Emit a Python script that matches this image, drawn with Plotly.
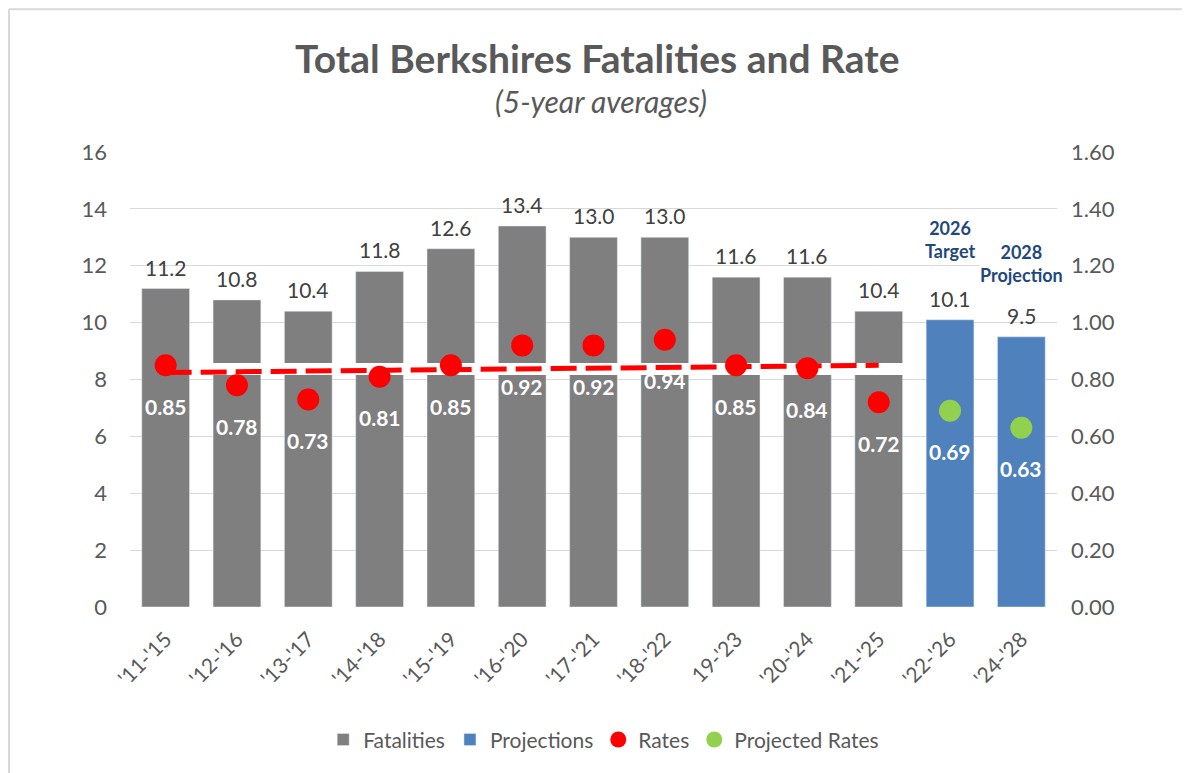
import numpy as np
import plotly.graph_objects as go

# ---- data ----
periods = ["'11-'15", "'12-'16", "'13-'17", "'14-'18", "'15-'19", "'16-'20", "'17-'21",
           "'18-'22", "19-'23", "'20-'24", "'21-'25", "'22-'26", "'24-'28"]
fatalities = [11.2, 10.8, 10.4, 11.8, 12.6, 13.4, 13.0, 13.0, 11.6, 11.6, 10.4]
projections = [10.1, 9.5]
rates = [0.85, 0.78, 0.73, 0.81, 0.85, 0.92, 0.92, 0.94, 0.85, 0.84, 0.72]
projected_rates = [0.69, 0.63]
projection_notes = ["2026<br>Target", "2028<br>Projection"]
left_ticks = [0, 2, 4, 6, 8, 10, 12, 14, 16]
right_ticks = [0.0, 0.2, 0.4, 0.6, 0.8, 1.0, 1.2, 1.4, 1.6]

n_hist = len(fatalities)
x_hist = list(range(n_hist))
x_proj = list(range(n_hist, n_hist + len(projections)))
x_all = list(range(len(periods)))

FONT = "Lato"
TXT = "#595959"
GRAY = "#7F7F7F"
BLUE = "#4F81BD"
RED = "#FF0000"
GREEN = "#92D050"
BW = 0.67
NOTE_SHIFTS = [57, 50]

fig = go.Figure()

fig.add_trace(go.Bar(x=x_hist, y=fatalities, name="Fatalities", marker_color=GRAY,
                     width=BW, yaxis="y", hoverinfo="skip"))
fig.add_trace(go.Bar(x=x_proj, y=projections, name="Projections", marker_color=BLUE,
                     width=BW, yaxis="y", hoverinfo="skip"))

# white band crossing the historical bars (as in the source image)
fig.add_trace(go.Scatter(x=[0.5, n_hist - 0.5, n_hist - 0.5, 0.5, 0.5],
                         y=[8.16, 8.16, 8.58, 8.58, 8.16], fill="toself",
                         fillcolor="white", mode="none", showlegend=False,
                         hoverinfo="skip", yaxis="y"))

# linear trendline of the historical rates
slope, intercept = np.polyfit(x_hist, rates, 1)
trend_x = [x_hist[0], x_hist[-1]]
trend_y = [intercept + slope * v for v in trend_x]
fig.add_trace(go.Scatter(x=trend_x, y=trend_y, mode="lines", yaxis="y2",
                         line=dict(color=RED, width=5, dash="26px,9px"),
                         showlegend=False, hoverinfo="skip"))

fig.add_trace(go.Scatter(x=x_hist, y=rates, name="Rates", mode="markers", yaxis="y2",
                         marker=dict(color=RED, size=22)))
fig.add_trace(go.Scatter(x=x_proj, y=projected_rates, name="Projected Rates",
                         mode="markers", yaxis="y2",
                         marker=dict(color=GREEN, size=22)))

annotations = []
# bar value labels
for xv, v in list(zip(x_hist, fatalities)) + list(zip(x_proj, projections)):
    annotations.append(dict(x=xv, y=v, xref="x", yref="y", text=f"{v:.1f}",
                            showarrow=False, yanchor="bottom", yshift=7,
                            font=dict(family=FONT, size=21, color="#404040")))
# rate labels
for xv, v in list(zip(x_hist, rates)) + list(zip(x_proj, projected_rates)):
    annotations.append(dict(x=xv, y=v, xref="x", yref="y2", text=f"<b>{v:.2f}</b>",
                            showarrow=False, yanchor="middle", yshift=-41,
                            font=dict(family=FONT, size=21, color="white")))
# projection notes
for xv, v, note, sh in zip(x_proj, projections, projection_notes, NOTE_SHIFTS):
    annotations.append(dict(x=xv, y=v, xref="x", yref="y", text=f"<b>{note}</b>",
                            showarrow=False, yanchor="bottom", yshift=sh,
                            bgcolor="white", borderpad=0,
                            font=dict(family=FONT, size=18, color="#1F497D")))
# title / subtitle
annotations.append(dict(x=0.504, y=1.207, xref="paper", yref="paper",
                        text="<b>Total Berkshires Fatalities and Rate</b>", showarrow=False,
                        xanchor="center", yanchor="middle",
                        font=dict(family=FONT, size=39, color=TXT)))
annotations.append(dict(x=0.508, y=1.112, xref="paper", yref="paper",
                        text="<i>(5-year averages)</i>", showarrow=False,
                        xanchor="center", yanchor="middle",
                        font=dict(family=FONT, size=30, color=TXT)))

fig.update_layout(
    width=1182, height=765,
    margin=dict(l=122, r=133, t=144, b=166),
    paper_bgcolor="white", plot_bgcolor="white",
    barmode="overlay",
    font=dict(family=FONT, color=TXT),
    showlegend=True,
    legend=dict(orientation="h", x=0.511, xanchor="center", y=-0.292, yanchor="middle",
                font=dict(family=FONT, size=21, color=TXT), traceorder="normal",
                itemwidth=30),
    xaxis=dict(tickmode="array", tickvals=x_all, ticktext=periods, tickangle=-45,
               range=[-0.5, len(periods) - 0.5], showgrid=False, zeroline=False,
               showline=False, ticks="", ticklabelstandoff=15,
               tickfont=dict(family=FONT, size=21, color=TXT)),
    yaxis=dict(range=[0, 16], tickvals=left_ticks, showgrid=True, gridcolor="#D9D9D9",
               gridwidth=1, zeroline=False, showline=False, ticks="",
               ticklabelstandoff=22,
               tickfont=dict(family=FONT, size=22, color=TXT)),
    yaxis2=dict(range=[0, 1.6], tickvals=right_ticks, tickformat=".2f", overlaying="y",
                side="right", showgrid=False, zeroline=False, showline=False, ticks="",
                ticklabelstandoff=13,
                tickfont=dict(family=FONT, size=22, color=TXT)),
    annotations=annotations,
    shapes=[
        dict(type="line", xref="paper", yref="paper", x0=-0.1305, x1=1.2, y0=1.314, y1=1.314,
             line=dict(color="#D9D9D9", width=2)),
        dict(type="line", xref="paper", yref="paper", x0=-0.1305, x1=-0.1305, y0=1.314, y1=-0.4,
             line=dict(color="#D9D9D9", width=2)),
    ],
)

fig.write_html("out.html")
